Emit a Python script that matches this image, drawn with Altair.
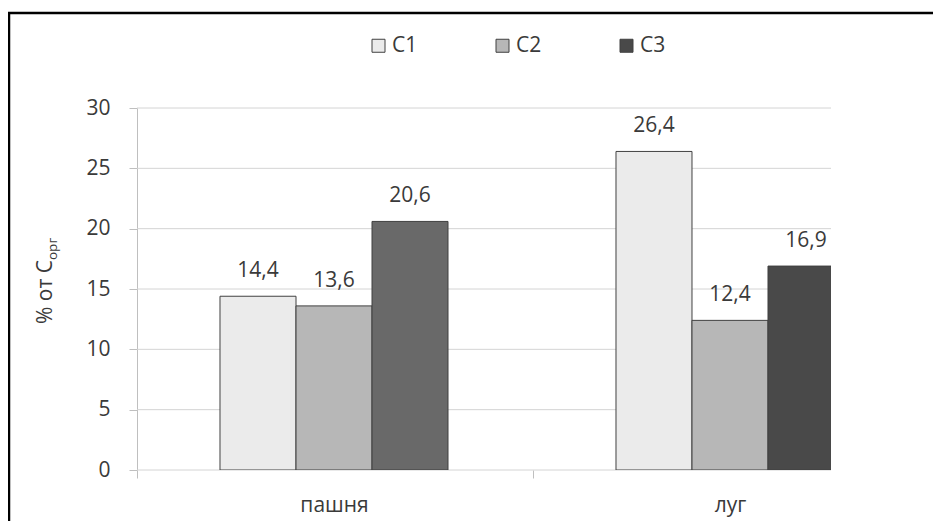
import altair as alt
import pandas as pd

groups = ["пашня", "луг"]
series = ["C1", "C2", "C3"]
pashnya = [14.4, 13.6, 20.6]
lug = [26.4, 12.4, 16.9]
y_ticks = [0, 5, 10, 15, 20, 25, 30]
series_colors = ["#ebebeb", "#b7b7b7", "#494949"]

rows = []
for g, vals in zip(groups, [pashnya, lug]):
    for s, v in zip(series, vals):
        rows.append({"group": g, "series": s, "value": v,
                     "label": f"{v:.1f}".replace(".", ",")})
df = pd.DataFrame(rows)
grid_df = pd.DataFrame({"value": y_ticks})

FONT = "Open Sans"
TEXT = "#3a3a3a"
GRID = "#d4d4d4"
AXIS = "#bfbfbf"

x_enc = alt.X(
    "group:N", sort=groups,
    scale=alt.Scale(domain=groups, range=[0, 790], paddingInner=0.4242, paddingOuter=0.2096),
    axis=alt.Axis(title=None, domain=False, ticks=True, tickSize=8, tickColor=AXIS,
                  bandPosition=0, tickOffset=-83, labelOffset=83,
                  labelAngle=0, labelFont=FONT, labelFontSize=21,
                  labelColor=TEXT, labelPadding=33, labelBaseline="alphabetic", grid=False),
)
xo_enc = alt.XOffset("series:N", sort=series,
                     scale=alt.Scale(domain=series, paddingInner=0, paddingOuter=0))
y_scale = alt.Scale(domain=[0, 30], nice=False, zero=True)
y_enc = alt.Y(
    "value:Q", scale=y_scale,
    axis=alt.Axis(title=None, values=y_ticks, grid=False,
                  domainColor=AXIS, tickColor=AXIS, tickSize=8, labelFont=FONT,
                  labelFontSize=21, labelColor=TEXT, labelPadding=19),
)

fill_enc = alt.condition(
    "datum.group === 'пашня' && datum.series === 'C3'",
    alt.value("#696969"),
    alt.Fill("series:N", sort=series,
             scale=alt.Scale(domain=series, range=series_colors),
             legend=alt.Legend(title=None, orient="none", legendX=231, legendY=-73,
                               direction="horizontal", symbolType="square", symbolSize=169,
                               symbolStrokeColor="#404040", symbolStrokeWidth=1,
                               labelFont=FONT, labelFontSize=21, labelColor=TEXT,
                               labelOffset=3, columnPadding=74, padding=0)),
)

grid = alt.Chart(grid_df).mark_rule(color=GRID, strokeWidth=1).encode(
    y=alt.Y("value:Q", scale=y_scale)
)

bars = alt.Chart(df).mark_bar(stroke="#404040", strokeWidth=1, clip=True, opacity=1).encode(
    x=x_enc, xOffset=xo_enc, y=y_enc, fill=fill_enc
)

labels = alt.Chart(df).mark_text(
    dy=-19, baseline="alphabetic", align="center", font=FONT, fontSize=21, color=TEXT
).encode(x=x_enc, xOffset=xo_enc, y=y_enc, text="label:N")

one = alt.Data(values=[{"a": 1}])

title_main = alt.Chart(one).mark_text(
    text="% от C", angle=270, align="right", baseline="alphabetic",
    font=FONT, fontSize=21, color=TEXT
).encode(x=alt.value(-85), y=alt.value(152))

title_sub = alt.Chart(one).mark_text(
    text="орг", angle=270, align="left", baseline="alphabetic",
    font=FONT, fontSize=13.5, color=TEXT
).encode(x=alt.value(-80), y=alt.value(152))

frame_top = alt.Chart(one).mark_rule(color="black", strokeWidth=2.5).encode(
    x=alt.value(-129), x2=alt.value(796), y=alt.value(-95)
)
frame_left = alt.Chart(one).mark_rule(color="black", strokeWidth=2.5).encode(
    x=alt.value(-128), y=alt.value(-95), y2=alt.value(413)
)

chart = alt.layer(grid, bars, labels, title_main, title_sub, frame_top, frame_left).properties(
    width=694, height=362,
    padding={"left": 129, "top": 100, "right": 102, "bottom": 51},
    autosize=alt.AutoSizeParams(type="none"),
).configure_view(strokeWidth=0)

chart.save("out.html", embed_options={"renderer": "svg", "actions": False})
